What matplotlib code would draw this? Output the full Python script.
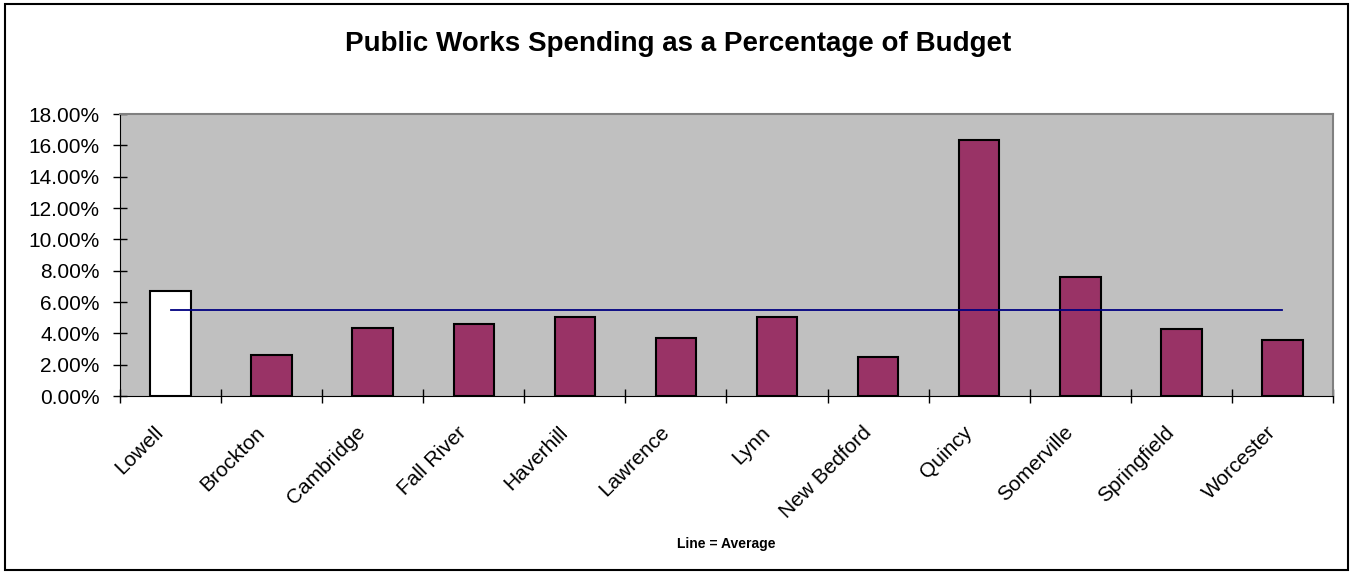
import numpy as np
import matplotlib.pyplot as plt
from matplotlib.patches import Rectangle
from matplotlib.ticker import FuncFormatter, MultipleLocator
from matplotlib.transforms import ScaledTranslation

plt.rcParams['font.family'] = ['Liberation Sans', 'DejaVu Sans']

cities = ["Lowell", "Brockton", "Cambridge", "Fall River", "Haverhill", "Lawrence",
          "Lynn", "New Bedford", "Quincy", "Somerville", "Springfield", "Worcester"]
spending_pct = [6.72, 2.60, 4.36, 4.60, 5.04, 3.70, 5.04, 2.49, 16.34, 7.59, 4.28, 3.59]
average_pct = 5.47

x = np.arange(len(cities))
colors = ["white"] + ["#993366"] * (len(cities) - 1)

fig = plt.figure(figsize=(13.5, 5.73), dpi=100)
ax = fig.add_axes([120 / 1350, 1 - 396 / 573, 1213 / 1350, 282 / 573])
ax.set_facecolor("#C0C0C0")

ax.bar(x, spending_pct, width=0.4, color=colors, edgecolor="black", linewidth=1.5, zorder=2)
ax.plot(x, [average_pct] * len(x), color="#000080", linewidth=1.3, zorder=3)

ax.set_xlim(-0.5, len(cities) - 0.5)
ax.set_ylim(0, 18)
ax.yaxis.set_major_locator(MultipleLocator(2))
ax.yaxis.set_major_formatter(FuncFormatter(lambda v, _: f"{v:.2f}%"))
ax.tick_params(axis="y", direction="inout", length=10, width=1, labelsize=15, pad=9.5)

# city names hang diagonally below each bar
ax.set_xticks(x)
ax.set_xticklabels(cities, rotation=45, ha="right", va="center", rotation_mode="anchor", fontsize=15)
ax.tick_params(axis="x", length=0, pad=24)
shift = ScaledTranslation(-10 / 100, 0, fig.dpi_scale_trans)
for lbl in ax.get_xticklabels():
    lbl.set_transform(lbl.get_transform() + shift)
ax.set_xticks(np.arange(-0.5, len(cities) + 0.5), minor=True)
ax.tick_params(axis="x", which="minor", direction="inout", length=10, width=1)

for side in ("left", "bottom"):
    ax.spines[side].set_color("black")
for side in ("top", "right"):
    ax.spines[side].set_color("#808080")
    ax.spines[side].set_linewidth(1.5)

ax.set_xlabel("Line = Average", fontsize=10, fontweight="bold", labelpad=0)
ax.xaxis.set_label_coords(0.5, -141 / 282)

fig.text(678 / 1350, 1 - 51 / 573, "Public Works Spending as a Percentage of Budget",
         ha="center", va="baseline", fontsize=20, fontweight="bold")

fig.patches.append(Rectangle((5 / 1350, 3 / 573), 1343 / 1350, 566 / 573,
                             transform=fig.transFigure, fill=False,
                             edgecolor="black", linewidth=1.5))

fig.savefig("out.png", dpi=100)
